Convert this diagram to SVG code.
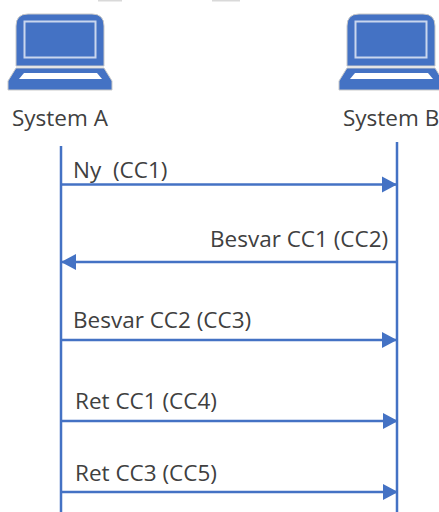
<svg xmlns="http://www.w3.org/2000/svg" width="439" height="512" viewBox="0 0 439 512">
<style>
text{font-family:"Open Sans","Noto Sans",sans-serif;font-size:22.500px;fill:#404040;white-space:pre}
.l{stroke:#4472c4;stroke-width:2.500;fill:none}
.m{stroke:#4472c4;stroke-width:2.500;fill:none;marker-end:url(#a)}
</style>
<defs>
<marker id="a" markerUnits="userSpaceOnUse" markerWidth="16" markerHeight="18" refX="15" refY="9" orient="auto"><path d="M0 1L15 9L0 17Z" fill="#4472c4"/></marker>
<g id="laptop">
<path d="M16 66V26Q16 14 28 14H92Q104 14 104 26V66Z" fill="#4472c4" stroke="#c9c9c9" stroke-width="1"/>
<rect x="24.500" y="21.500" width="71" height="36" fill="none" stroke="#c9d6ee" stroke-width="2"/>
<path d="M16 68H104L112 81V90H8V81Z" fill="#4472c4" stroke="#c9c9c9" stroke-width="1"/>
<path d="M24 73H97L102 79H19Z" fill="#fff"/>
</g>
</defs>
<rect width="439" height="512" fill="#fff"/>
<rect x="98" y="0" width="24" height="1.500" fill="#d9d9d9"/>
<rect x="212" y="0" width="28" height="1.500" fill="#d9d9d9"/>
<g id="system-a"><use href="#laptop"/><text x="12" y="125.500">System A</text></g>
<g id="system-b"><use href="#laptop" x="331"/><text x="343" y="125.500">System B</text></g>
<g id="connectors">
<path class="l" d="M61 146V512"/>
<path class="l" d="M397 142V512"/>
<path class="m" d="M61 184.500H397"/>
<path class="m" d="M397 262H61"/>
<path class="m" d="M61 340H397"/>
<path class="m" d="M61 421H398"/>
<path class="m" d="M61 492H398"/>
</g>
<g id="labels">
<text x="73" y="177.500">Ny  (CC1)</text>
<text x="210" y="247">Besvar CC1 (CC2)</text>
<text x="73" y="328">Besvar CC2 (CC3)</text>
<text x="75" y="409">Ret CC1 (CC4)</text>
<text x="75" y="481">Ret CC3 (CC5)</text>
</g>
</svg>
